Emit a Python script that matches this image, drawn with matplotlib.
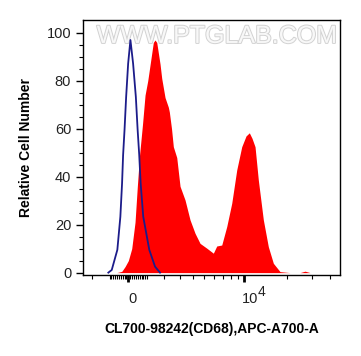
import numpy as np
import matplotlib
matplotlib.use("Agg")
import matplotlib.pyplot as plt
import matplotlib.transforms as mtransforms
import matplotlib.patheffects as pe

plt.rcParams['font.family'] = ['Liberation Sans', 'DejaVu Sans']

# ---- data (channel value, relative count) ----
red_x = [-612, -347, -173, 0, 178, 352, 474, 591, 752, 887, 1034, 1189, 1346, 1443,
         1541, 1734, 1835, 2036, 2241, 2305, 2446, 2565, 2794, 3024, 3388, 3773,
         4182, 4616, 5243, 5919, 6291, 6872, 7495, 8164, 8884, 9660, 10375, 10956,
         11453, 12030, 12695, 13770, 14927, 16181, 18017, 21138, 24786, 26834, 29047]
red_y = [0, 0.5, 2.5, 5, 10, 21, 36, 49, 62, 74, 80, 88, 96, 97,
         96, 87, 81, 73, 69, 67, 60, 52.5, 48, 36, 30.3, 22,
         16.4, 12.2, 10.2, 8.1, 11.1, 11.5, 19.2, 28.9, 42.8, 52.5, 57, 58.3,
         56, 52.5, 38.6, 22, 10.8, 3.9, 0.4, 0, 0, 0.6, 0]

blue_x = [-1067, -881, -580, -420, -330, -275, -200, -115, -10, 110, 250, 395,
          490, 575, 650, 790, 1120, 1443, 1734]
blue_y = [0, 1.1, 9.5, 23.3, 37.2, 49, 59.5, 73.3, 87.2, 97, 87.2, 73.3,
          59.5, 49, 37.2, 23.3, 9.5, 2.5, 0]

x_major = [0, 10000]
x_major_labels = ['0', '10']
x_exponent = '4'
x_minor = [-2000, -1000, -900, -800, -700, -600, -500, -400, -300, -200, -100,
           100, 200, 300, 400, 500, 600, 700, 800, 900, 1000,
           2000, 3000, 4000, 5000, 6000, 7000, 8000, 9000,
           20000, 30000, 40000]
y_major = [0, 20, 40, 60, 80, 100]

x_label = 'CL700-98242(CD68),APC-A700-A'
y_label = 'Relative Cell Number'
watermark = 'WWW.PTGLAB.COM'

C = 3333.0


def fwd(x):
    return np.arcsinh(np.asarray(x, dtype=float) / C)


def inv(u):
    return C * np.sinh(np.asarray(u, dtype=float))


fig = plt.figure(figsize=(3.61, 3.56), dpi=100)
ax = fig.add_axes([0.23, 0.2275, 0.712, 0.716])
ax.set_xscale('function', functions=(fwd, inv))

ax.fill_between(red_x, red_y, 0, color='#ff0000', linewidth=0, zorder=2)
ax.plot(blue_x, blue_y, color='#1c1c8a', linewidth=1.3, zorder=3)

ax.set_xlim(-2585, 46700)
ax.set_ylim(-1, 105.3)

ax.set_xticks(x_major, labels=x_major_labels)
ax.set_xticks(x_minor, minor=True)
ax.set_yticks(y_major)
ax.set_yticks(np.arange(0, 101, 5), minor=True)

ax.tick_params(axis='both', which='major', direction='out', length=5, width=1,
               labelsize=10.5, colors='black', labelcolor='#222222')
ax.tick_params(axis='x', which='major', width=2, pad=7)
ax.tick_params(axis='both', which='minor', direction='out', length=3, width=0.8)

# shift x tick labels slightly right, as in the reference
offs = [4, 6]
for lab, o in zip(ax.get_xticklabels(), offs):
    lab.set_transform(lab.get_transform() +
                      mtransforms.ScaledTranslation(o / 100, 0, fig.dpi_scale_trans))
ax.annotate(x_exponent, xy=(x_major[1], 0), xycoords=('data', 'axes fraction'),
            xytext=(10, -12.5), textcoords='offset points', fontsize=10,
            color='#222222', ha='left', va='center')

for s in ax.spines.values():
    s.set_linewidth(1.0)
    s.set_color('black')

ax.set_xlabel(x_label, fontsize=10, fontweight='bold', labelpad=12)
ax.set_ylabel(y_label, fontsize=10, fontweight='bold', labelpad=10)

ax.text(0.52, 0.985, watermark, transform=ax.transAxes, ha='center', va='top',
        fontsize=18, color='#f8f8f8', zorder=1,
        path_effects=[pe.withStroke(linewidth=1.4, foreground='#d2d2d2')])

fig.savefig('out.png', dpi=100)
